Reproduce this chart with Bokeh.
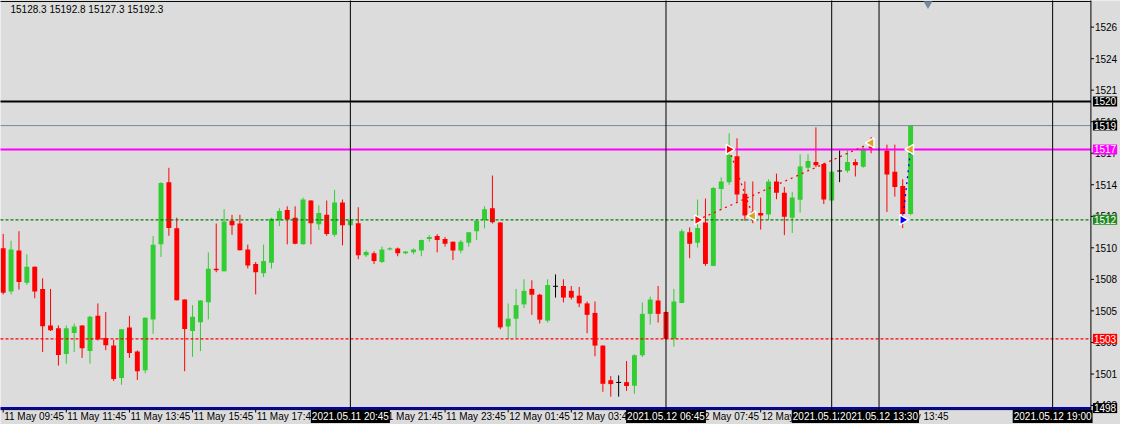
import numpy as np
from bokeh.plotting import figure
from bokeh.models import Label, Range1d
from bokeh.embed import file_html
from bokeh.resources import INLINE

NaN = float("nan")

# ---- 15-minute candles, bar 0 = 11 May 09:45 ----
opens = [15103.4, 15072.0, 15101.8, 15078.3, 15089.9, 15073.9, 15047.4, 15045.3, 15026.7, 15042.0,
         15047.4, 15028.8, 15054.4, 15038.4, 15032.8, 15009.3, 15046.0, 15028.6, 15014.9, 15051.8,
         15106.2, 15151.3, 15117.8, 15066.2, 15043.4, 15049.7, 15064.3, 15088.5, 15086.7, 15123.4,
         15121.3, 15102.5, 15092.0, 15085.3, 15092.9, 15123.6, 15131.1, 15125.5, 15106.2, 15138.0,
         15120.8, 15127.6, 15113.1, 15136.6, 15120.1, 15121.5, 15098.3, 15099.7, 15093.4, 15102.5,
         15103.2, 15099.7, 15100.4, 15101.8, 15110.1, 15112.2, 15110.1, 15108.1, 15101.8, 15107.4,
         15115.7, 15124.1, 15132.4, 15122.0, 15046.7, 15052.3, 15062.7, 15073.9, 15069.7, 15050.9,
         15075.8, 15076.0, 15072.5, 15069.0, 15063.4, 15056.5, 15032.8, 15007.7, 15006.1, 15006.3,
         15003.7, 15025.8, 15055.8, 15065.5, 15057.2, 15037.7, 15063.7, 15115.0, 15107.4, 15122.0,
         15090.6, 15146.4, 15151.3, 15170.1, 15142.9, 15129.0, 15129.0, 15127.8, 15151.8, 15143.6,
         15125.5, 15138.5, 15161.7, 15165.9, 15164.5, 15138.0, 15159.4, 15159.6, 15165.9, 15162.4,
         15177.1, NaN, 15174.3, 15158.9, 15148.5, 15128.3]
highs = [15113.8, 15108.8, 15115.7, 15099.0, 15090.2, 15081.6, 15073.9, 15047.4, 15047.4, 15048.8,
         15047.6, 15054.4, 15063.4, 15057.2, 15037.0, 15044.8, 15054.4, 15029.3, 15053.2, 15112.2,
         15151.3, 15161.7, 15125.5, 15066.4, 15062.1, 15065.7, 15100.4, 15121.3, 15131.7, 15127.6,
         15127.6, 15106.0, 15093.4, 15106.0, 15125.5, 15132.4, 15133.8, 15133.8, 15140.1, 15138.2,
         15134.5, 15138.0, 15145.7, 15138.7, 15125.5, 15133.1, 15101.8, 15101.1, 15104.6, 15104.1,
         15103.9, 15101.3, 15103.2, 15109.6, 15112.9, 15113.6, 15111.5, 15108.3, 15109.4, 15115.2,
         15123.6, 15133.8, 15156.1, 15122.2, 15063.4, 15073.9, 15080.9, 15080.2, 15070.4, 15080.9,
         15084.4, 15080.9, 15076.0, 15075.3, 15064.8, 15064.8, 15033.0, 15010.7, 15011.2, 15021.6,
         15026.5, 15064.1, 15068.3, 15076.0, 15057.4, 15073.9, 15117.1, 15118.5, 15138.7, 15139.4,
         15147.8, 15154.8, 15186.8, 15183.1, 15151.8, 15151.8, 15140.1, 15153.4, 15157.5, 15147.8,
         15144.3, 15171.5, 15171.5, 15191.0, 15165.2, 15159.1, 15174.3, 15174.3, 15168.0, 15177.1,
         15184.0, NaN, 15178.5, 15178.5, 15153.4, 15192.8]
lows = [15069.9, 15069.9, 15073.4, 15076.9, 15067.1, 15028.1, 15043.4, 15018.3, 15019.7, 15028.1,
        15023.9, 15019.7, 15036.5, 15029.5, 15007.2, 15004.4, 15023.9, 15007.9, 15012.8, 15041.3,
        15097.1, 15112.4, 15065.5, 15014.2, 15024.6, 15028.8, 15051.8, 15086.0, 15086.5, 15113.1,
        15101.8, 15088.7, 15069.9, 15082.5, 15088.7, 15119.4, 15106.2, 15106.2, 15106.0, 15106.2,
        15116.6, 15112.4, 15111.7, 15105.5, 15119.2, 15095.5, 15097.1, 15092.0, 15092.7, 15101.8,
        15097.6, 15099.0, 15099.0, 15097.6, 15108.1, 15100.4, 15104.6, 15094.8, 15099.7, 15104.6,
        15109.4, 15117.8, 15121.3, 15044.6, 15037.7, 15038.4, 15060.0, 15055.1, 15048.8, 15049.5,
        15067.6, 15064.1, 15066.2, 15060.7, 15041.8, 15025.1, 14999.3, 14995.8, 14995.8, 15000.0,
        14997.9, 15024.4, 15048.1, 15049.5, 15037.5, 15032.1, 15063.5, 15096.2, 15103.9, 15090.6,
        15090.4, 15131.3, 15149.4, 15137.1, 15123.2, 15121.5, 15116.9, 15123.9, 15138.9, 15112.9,
        15114.5, 15129.2, 15159.8, 15162.2, 15135.4, 15137.8, 15151.3, 15158.2, 15155.4, 15161.7,
        15172.2, NaN, 15129.7, 15140.8, 15118.0, 15127.3]
closes = [15071.1, 15102.5, 15079.0, 15089.9, 15072.0, 15046.9, 15043.9, 15026.0, 15045.3, 15046.7,
          15030.9, 15053.7, 15037.2, 15033.0, 15008.6, 15044.6, 15027.4, 15014.2, 15053.0, 15106.0,
          15150.6, 15118.0, 15065.7, 15044.8, 15053.7, 15065.5, 15088.5, 15087.4, 15122.7, 15120.1,
          15102.0, 15090.8, 15086.0, 15094.1, 15124.8, 15130.4, 15124.3, 15106.7, 15138.7, 15121.5,
          15129.0, 15113.8, 15136.6, 15120.1, 15123.6, 15098.3, 15100.6, 15094.1, 15102.5, 15103.4,
          15099.7, 15101.1, 15102.5, 15109.4, 15111.5, 15109.4, 15106.7, 15101.8, 15108.1, 15115.0,
          15123.4, 15131.7, 15122.2, 15046.0, 15052.3, 15062.1, 15072.5, 15069.7, 15051.6, 15076.7,
          15075.8, 15067.6, 15067.6, 15063.4, 15055.1, 15032.8, 15005.1, 15004.9, 15006.1, 15003.5,
          15025.8, 15055.8, 15066.2, 15055.8, 15037.7, 15064.8, 15115.7, 15106.7, 15118.0, 15092.0,
          15147.1, 15151.8, 15171.0, 15142.4, 15127.1, 15127.1, 15127.1, 15151.8, 15143.6, 15126.2,
          15140.1, 15162.6, 15166.6, 15163.6, 15138.7, 15158.9, 15159.4, 15165.9, 15163.6, 15175.7,
          15175.7, NaN, 15156.8, 15147.8, 15128.3, 15192.3]

# ---- time axis ----
time_tick_bars = [0, 8, 16, 24, 32, 40, 48, 56, 64, 72, 80, 88, 96, 104, 112]
time_tick_labels = ["11 May 09:45", "11 May 11:45", "11 May 13:45", "11 May 15:45", "11 May 17:45",
                    "11 May 19:45", "11 May 21:45", "11 May 23:45", "12 May 01:45", "12 May 03:45",
                    "12 May 05:45", "12 May 07:45", "12 May 09:45", "12 May 11:45", "12 May 13:45"]

# ---- price axis (the narrow price scale only shows the first four digits) ----
price_ticks = [15263.7, 15240.8, 15218.0, 15195.1, 15172.3, 15149.4, 15126.5,
               15103.7, 15080.8, 15058.0, 15035.1, 15012.2, 14989.4]
price_tick_labels = [str(int(v))[:4] for v in price_ticks]

# ---- horizontal levels ----
level_prices = [15209.8, 15192.3, 15175.0, 15124.0, 15037.7, 14987.5]
level_labels = [str(int(v))[:4] for v in level_prices]

# ---- vertical time lines ----
vline_bars = [44, 84, 105, 111, 133]
vline_labels = ["2021.05.11 20:45", "2021.05.12 06:45", "2021.05.12 12:00",
                "2021.05.12 13:30", "2021.05.12 19:00"]

# ---- trades ----
trade_open_bar = [88, 92, 114]
trade_open_price = [15123.9, 15175.0, 15123.9]
trade_close_bar = [110, 95, 115]
trade_close_price = [15179.8, 15126.9, 15175.0]
trade_side = ["sell", "sell", "buy"]

header_text = "15128.3 15192.8 15127.3 15192.3"
shift_marker_bar = 117.2

# ---- styling / layout ----
BG = "#DCDCDC"
BULL = "#32CD32"
BEAR = "#FF0000"
FONT = "Liberation Sans"
level_line_colors = ["black", "#778899", "#FF00FF", "#008000", "#FF0000", "#0000CD"]
level_line_widths = [2, 1, 2, 1.2, 1.2, 2]
level_line_dash = ["solid", "solid", "solid", "3 2", "3 2", "solid"]
level_label_bg = ["black", "black", "#FF00FF", "#228B22", "#FF0000", "black"]

PRICE_PER_PX = 0.697           # vertical scale of the chart window
X0, X1 = -0.34, 141.6          # whole window, in bars
Y0, Y1 = 14975.6, 15283.0      # whole window, in price
AXIS_BAR = 137.85              # position of the price-scale separator
AXIS_PRICE = 14986.4           # position of the time-scale separator
TOP_PRICE = 15282.3
TICK = 3 * PRICE_PER_PX

p = figure(width=1120, height=424, x_range=Range1d(X0, X1), y_range=Range1d(Y0, Y1),
           output_backend="svg", toolbar_location=None,
           x_axis_location=None, y_axis_location=None, min_border=0)
p.background_fill_color = BG
p.border_fill_color = BG
p.outline_line_color = None
p.grid.visible = False

# ---- candles ----
idx = np.arange(len(opens), dtype=float)
o = np.array(opens, dtype=float)
h = np.array(highs, dtype=float)
l = np.array(lows, dtype=float)
c = np.array(closes, dtype=float)
inc = c > o
dec = c < o
doj = c == o
BW = 0.625

p.segment(idx[inc], h[inc], idx[inc], l[inc], line_color=BULL, line_width=1)
p.vbar(x=idx[inc], width=BW, top=c[inc], bottom=o[inc], fill_color=BULL, line_color=None)
p.segment(idx[dec], h[dec], idx[dec], l[dec], line_color=BEAR, line_width=1)
p.vbar(x=idx[dec], width=BW, top=o[dec], bottom=c[dec], fill_color=BEAR, line_color=None)
p.segment(idx[doj], h[doj], idx[doj], l[doj], line_color="black", line_width=1)
p.segment(idx[doj] - BW / 2, o[doj], idx[doj] + BW / 2, o[doj], line_color="black", line_width=1)

# ---- horizontal lines (stop at the price scale) ----
for pr, col, w, d in zip(level_prices, level_line_colors, level_line_widths, level_line_dash):
    p.segment(x0=[X0], y0=[pr], x1=[AXIS_BAR], y1=[pr], line_color=col, line_width=w,
              line_dash=d, level="guide")

# ---- vertical lines ----
p.segment(x0=vline_bars, y0=[AXIS_PRICE - TICK] * len(vline_bars), x1=vline_bars,
          y1=[Y1] * len(vline_bars), line_color="black", line_width=1, level="guide")

# ---- frame / scales ----
p.segment(x0=[X0], y0=[TOP_PRICE], x1=[AXIS_BAR], y1=[TOP_PRICE], line_color="black", line_width=1, level="guide")
p.segment(x0=[AXIS_BAR], y0=[AXIS_PRICE], x1=[AXIS_BAR], y1=[Y1], line_color="black", line_width=1, level="guide")
p.segment(x0=[X0], y0=[AXIS_PRICE], x1=[AXIS_BAR], y1=[AXIS_PRICE], line_color="black", line_width=1, level="guide")
p.segment(x0=time_tick_bars, y0=[AXIS_PRICE] * len(time_tick_bars), x1=time_tick_bars,
          y1=[AXIS_PRICE - TICK] * len(time_tick_bars), line_color="black", line_width=1, level="guide")
p.segment(x0=[AXIS_BAR] * len(price_ticks), y0=price_ticks, x1=[AXIS_BAR + 0.4] * len(price_ticks),
          y1=price_ticks, line_color="black", line_width=1, level="guide")

# ---- trades ----
side_col = {"sell": "#FF0000", "buy": "#0000FF"}
tcols = [side_col[s] for s in trade_side]
p.segment(x0=trade_open_bar, y0=trade_open_price, x1=trade_close_bar, y1=trade_close_price,
          line_color=tcols, line_width=1.3, line_dash="2 4", level="overlay")
p.scatter(x=trade_open_bar, y=trade_open_price, marker="triangle", angle=-np.pi / 2, size=10,
          fill_color=tcols, line_color="white", line_width=1.5, level="overlay")
p.scatter(x=trade_close_bar, y=trade_close_price, marker="triangle", angle=np.pi / 2, size=10,
          fill_color="#DAA520", line_color="white", line_width=1.5, level="overlay")

# chart-shift marker
p.scatter(x=[shift_marker_bar], y=[Y1 - 3.5 * PRICE_PER_PX], marker="inverted_triangle", size=9,
          fill_color="#778899", line_color=None, level="overlay")

# ---- texts ----
p.add_layout(Label(x=10, x_units="screen", y=Y1, y_offset=-9, text=header_text,
                   text_baseline="middle", text_align="left", text_font=FONT,
                   text_font_size="10px", text_color="black"))

for v, s in zip(price_ticks, price_tick_labels):
    p.add_layout(Label(x=AXIS_BAR, y=v, x_offset=4, text=s, text_align="left",
                       text_baseline="middle", text_font=FONT, text_font_size="10px",
                       text_color="black"))

for b, s in zip(time_tick_bars, time_tick_labels):
    p.add_layout(Label(x=b, y=AXIS_PRICE, x_offset=1, y_offset=-7, text=s, text_align="left",
                       text_baseline="middle", text_font=FONT, text_font_size="10px",
                       text_color="black"))

for b, s in zip(vline_bars, vline_labels):
    p.add_layout(Label(x=b, y=AXIS_PRICE, y_offset=-7, text=s, text_align="center",
                       text_baseline="middle", text_font=FONT, text_font_size="10px",
                       text_color="white", background_fill_color="black", padding=1))

for pr, s, bg in zip(level_prices, level_labels, level_label_bg):
    p.add_layout(Label(x=AXIS_BAR, y=pr, x_offset=2, text=s, text_align="left",
                       text_baseline="middle", text_font=FONT, text_font_size="10px",
                       text_color="white", background_fill_color=bg, padding=1))

open("out.html", "w").write(file_html(p, INLINE))
